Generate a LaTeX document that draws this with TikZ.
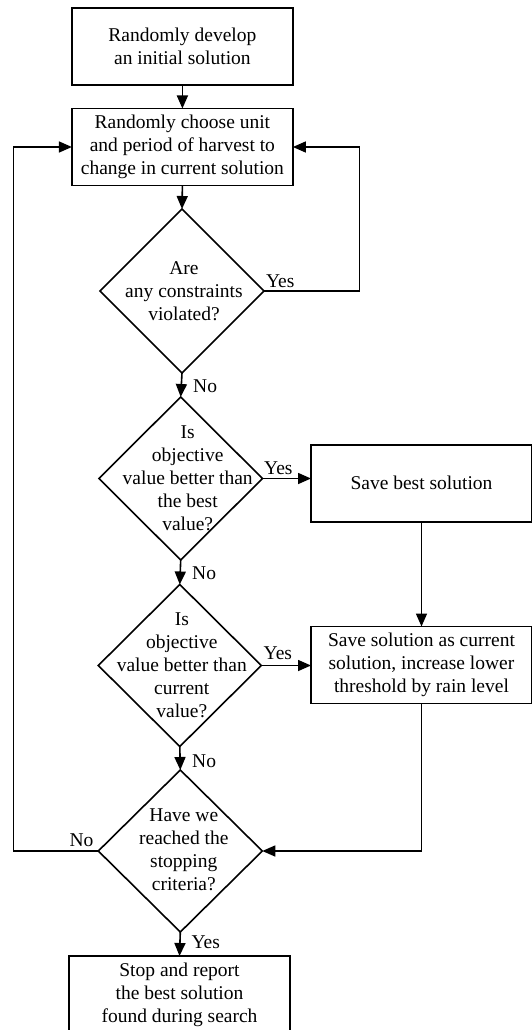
\documentclass[tikz,border=0pt]{standalone}
\usepackage{fontspec}
\setmainfont{Liberation Serif}
\usetikzlibrary{shapes.geometric,arrows.meta}
\tikzset{
  txtfont/.style={font=\fontsize{19.5}{23}\selectfont},
  boxnode/.style={draw, line width=1.6pt, rectangle, minimum width=221pt, minimum height=77pt,
    inner sep=0pt, outer sep=0pt, align=center, txtfont},
  decision/.style={draw, line width=1.6pt, diamond, inner sep=0pt, outer sep=0pt},
  dtext/.style={align=center, inner sep=0pt, txtfont},
  lbl/.style={inner sep=0pt, txtfont},
  flow/.style={line width=1.6pt, -{Triangle[length=13pt,width=11pt]}},
}
\begin{document}
\begin{tikzpicture}[x=1pt,y=-1pt]
\useasboundingbox (0,0) rectangle (531,1030);

% boxes
\node[boxnode] (b1) at (182.4,46.4) {Randomly develop\\an initial solution};
\node[boxnode] (b2) at (182.4,147) {Randomly choose unit\\and period of harvest to\\change in current solution};
\node[boxnode] (b3) at (421.5,483.2) {Save best solution};
\node[boxnode] (b4) at (421.5,665) {Save solution as current\\solution, increase lower\\threshold by rain level};
\node[boxnode] (b5) at (179.5,994.5) {Stop and report\\the best solution\\found during search};

% decisions
\node[decision, minimum width=164pt, minimum height=164pt] (d1) at (182,291) {};
\node[decision, minimum width=163.5pt, minimum height=163pt] (d2) at (180.7,478.5) {};
\node[decision, minimum width=163pt, minimum height=162pt] (d3) at (179.8,665.5) {};
\node[decision, minimum width=164pt, minimum height=162pt] (d4) at (180.3,851) {};

\node[dtext] (t1) at ([xshift=2pt]d1.center) {Are\\any constraints\\violated?};
\node[dtext] (t2) at ([xshift=7pt]d2.center) {Is\\objective\\value better than\\the best\\value?};
\node[dtext] (t3) at ([xshift=2pt]d3.center) {Is\\objective\\value better than\\current\\value?};
\node[dtext] (t4) at ([xshift=3.5pt,yshift=1pt]d4.center) {Have we\\reached the\\stopping\\criteria?};

% labels
\node[lbl, anchor=base west] (ly1) at (265.8,287) {Yes};
\node[lbl, anchor=base west] (ln1) at (193,392.5) {No};
\node[lbl, anchor=base west] (ly2) at (264,474.5) {Yes};
\node[lbl, anchor=base west] (ln2) at (192,579.8) {No};
\node[lbl, anchor=base west] (ly3) at (263.5,659.8) {Yes};
\node[lbl, anchor=base west] (ln3) at (192,767) {No};
\node[lbl, anchor=base west] (ln4) at (69.4,846.5) {No};
\node[lbl, anchor=base west] (ly4) at (191.3,948) {Yes};

% corner coordinates
\coordinate (r1) at (359.5,291);
\coordinate (l1) at (13.5,851);

% connectors
\draw[flow] (b1.south) -- (b2.north);
\draw[flow] (b2.south) -- (d1.north);
\draw[flow] (d1.east) -- (r1) |- (b2.east);
\draw[flow] (d1.south) -- (d2.north);
\draw[flow] (d2.east) -- (d2.east -| b3.west);
\draw[flow] (d2.south) -- (d3.north);
\draw[flow] (b3.south) -- (b4.north);
\draw[flow] (d3.east) -- (d3.east -| b4.west);
\draw[flow] (d3.south) -- (d4.north);
\draw[flow] (b4.south) |- (d4.east);
\draw[flow] (d4.west) -- (l1) |- (b2.west);
\draw[flow] (d4.south) -- (b5.north);
\end{tikzpicture}
\end{document}
